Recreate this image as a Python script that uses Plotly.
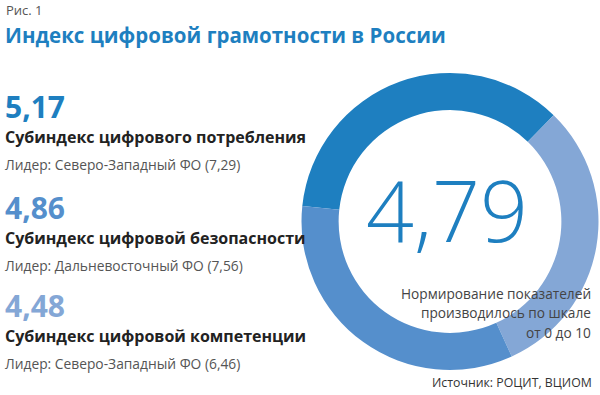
import plotly.graph_objects as go

W, H = 600, 395

# Data
segment_labels = ["Субиндекс цифрового потребления", "Субиндекс цифровой компетенции", "Субиндекс цифровой безопасности"]
segment_values = [5.17, 4.48, 4.86]
segment_colors = ["#1e7fc0", "#84a7d6", "#558fcc"]

total_index = "4,79"
sub_values = ["5,17", "4,86", "4,48"]
sub_names = ["Субиндекс цифрового потребления", "Субиндекс цифровой безопасности", "Субиндекс цифровой компетенции"]
sub_leaders = ["Лидер: Северо-Западный ФО (7,29)", "Лидер: Дальневосточный ФО (7,56)", "Лидер: Северо-Западный ФО (6,46)"]
sub_colors = ["#1e7fc0", "#558fcc", "#84a7d6"]
note_lines = ["Нормирование показателей", "производилось по шкале", "от 0 до 10"]
source_text = "Источник: РОЦИТ, ВЦИОМ"

FONT = "Open Sans"

def px(x):
    return x / W

def py(y):
    return 1 - y / H

fig = go.Figure()
fig.add_trace(go.Pie(
    labels=segment_labels,
    values=segment_values,
    marker=dict(colors=segment_colors, line=dict(width=0)),
    hole=0.75,
    sort=False,
    direction="clockwise",
    rotation=-84,
    textinfo="none",
    hoverinfo="label+value",
    showlegend=False,
    domain=dict(x=[px(301), px(599)], y=[py(370), py(73)]),
))

ann = []
ann.append(dict(text="Рис. 1", x=px(4), y=py(10), xanchor="left", yanchor="middle",
                font=dict(family=FONT, size=13, color="#555555")))
ann.append(dict(text="<b>Индекс цифровой грамотности в России</b>", x=px(3), y=py(35),
                xanchor="left", yanchor="middle",
                font=dict(family=FONT, size=20.5, color="#1e7fc0")))

val_y = [106, 207, 305]
for i in range(3):
    y0 = val_y[i]
    ann.append(dict(text="<b>" + sub_values[i] + "</b>", x=px(3), y=py(y0), xanchor="left", yanchor="middle",
                    font=dict(family=FONT, size=30, color=sub_colors[i])))
    ann.append(dict(text="<b>" + sub_names[i] + "</b>", x=px(3), y=py(y0 + 31), xanchor="left", yanchor="middle",
                    font=dict(family=FONT, size=16, color="#222222")))
    ann.append(dict(text=sub_leaders[i], x=px(3), y=py(y0 + 58), xanchor="left", yanchor="middle",
                    font=dict(family=FONT, size=13.8, color="#555555")))

ann.append(dict(text=total_index, x=px(447), y=py(210), xanchor="center", yanchor="middle",
                font=dict(family=FONT, size=84, color="#1e7fc0", weight=300)))

note_y = [293, 312.5, 332]
for line, ly in zip(note_lines, note_y):
    ann.append(dict(text=line, x=px(593), y=py(ly), xanchor="right", yanchor="middle", align="right",
                    font=dict(family=FONT, size=13.7, color="#444444")))
ann.append(dict(text=source_text, x=px(594), y=py(382), xanchor="right", yanchor="middle",
                font=dict(family=FONT, size=12.3, color="#333333")))

for a in ann:
    a.update(xref="paper", yref="paper", showarrow=False)

fig.update_layout(
    width=W, height=H,
    margin=dict(l=0, r=0, t=0, b=0),
    paper_bgcolor="white",
    plot_bgcolor="white",
    annotations=ann,
)

fig.write_html("out.html", config={"displayModeBar": False},
               post_script="document.body.style.margin='0';document.body.style.overflow='hidden';")
